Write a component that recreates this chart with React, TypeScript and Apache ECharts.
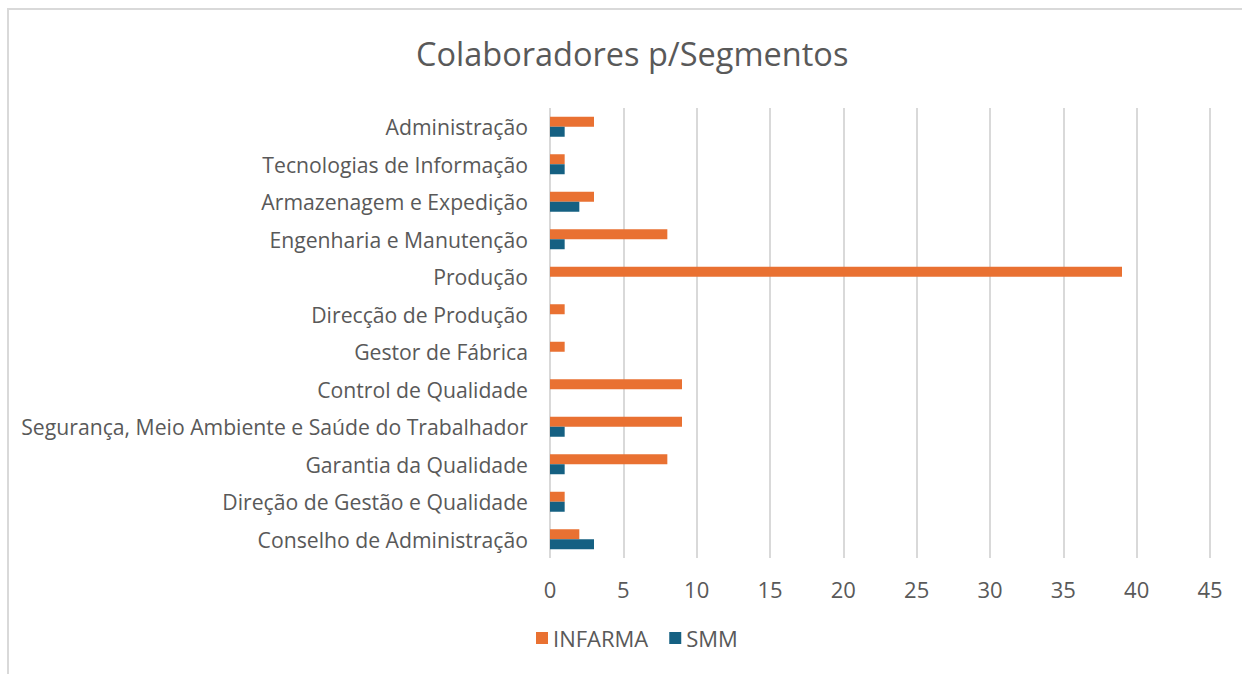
import React, { useEffect, useRef } from "react";
import * as echarts from "echarts";

const categories = [
  "Administração",
  "Tecnologias de Informação",
  "Armazenagem e Expedição",
  "Engenharia e Manutenção",
  "Produção",
  "Direcção de Produção",
  "Gestor de Fábrica",
  "Control de Qualidade",
  "Segurança, Meio Ambiente e Saúde do Trabalhador",
  "Garantia da Qualidade",
  "Direção de Gestão e Qualidade",
  "Conselho de Administração",
];
const infarma = [3, 1, 3, 8, 39, 1, 1, 9, 9, 8, 1, 2];
const smm = [1, 1, 2, 1, 0, 0, 0, 0, 1, 1, 1, 3];

const FONT = "'Open Sans', 'Noto Sans', sans-serif";

export default function App() {
  const ref = useRef<HTMLDivElement>(null);
  useEffect(() => {
    const chart = echarts.init(ref.current!, null, { renderer: "svg" });
    chart.setOption({
      animation: false,
      backgroundColor: "#ffffff",
      title: {
        text: "Colaboradores p/Segmentos",
        left: 411,
        top: 32,
        textStyle: { color: "#595959", fontSize: 32.5, fontWeight: "normal", fontFamily: FONT },
      },
      graphic: [
        {
          type: "rect",
          shape: { x: 8, y: 9, width: 1300, height: 700 },
          style: { fill: "none", stroke: "#d9d9d9", lineWidth: 2 },
          silent: true,
        },
      ],
      legend: {
        top: 622,
        left: 531,
        itemWidth: 12,
        itemHeight: 12,
        itemGap: 21,
        icon: "rect",
        textStyle: { color: "#595959", fontSize: 22, fontFamily: FONT },
        data: ["INFARMA", "SMM"],
      },
      grid: { left: 550, right: 32, top: 108, bottom: 116 },
      xAxis: {
        type: "value",
        min: 0,
        max: 45,
        interval: 5,
        axisLine: { show: false },
        axisTick: { show: false },
        splitLine: { lineStyle: { color: "#d9d9d9", width: 2 } },
        axisLabel: { color: "#595959", fontSize: 22, margin: 20, fontFamily: FONT },
      },
      yAxis: {
        type: "category",
        inverse: true,
        data: categories,
        axisLine: { show: false },
        axisTick: { show: false },
        axisLabel: { color: "#595959", fontSize: 21.2, margin: 22, fontFamily: FONT },
      },
      series: [
        {
          name: "INFARMA",
          type: "bar",
          data: infarma,
          barWidth: 10,
          barGap: "0%",
          itemStyle: { color: "#E97132" },
        },
        {
          name: "SMM",
          type: "bar",
          data: smm,
          barWidth: 10,
          barGap: "0%",
          itemStyle: { color: "#156082" },
        },
      ],
    });
    return () => chart.dispose();
  }, []);
  return (
    <div
      ref={ref}
      style={{ position: "fixed", left: 0, top: 0, width: 1242, height: 674 }}
    />
  );
}
